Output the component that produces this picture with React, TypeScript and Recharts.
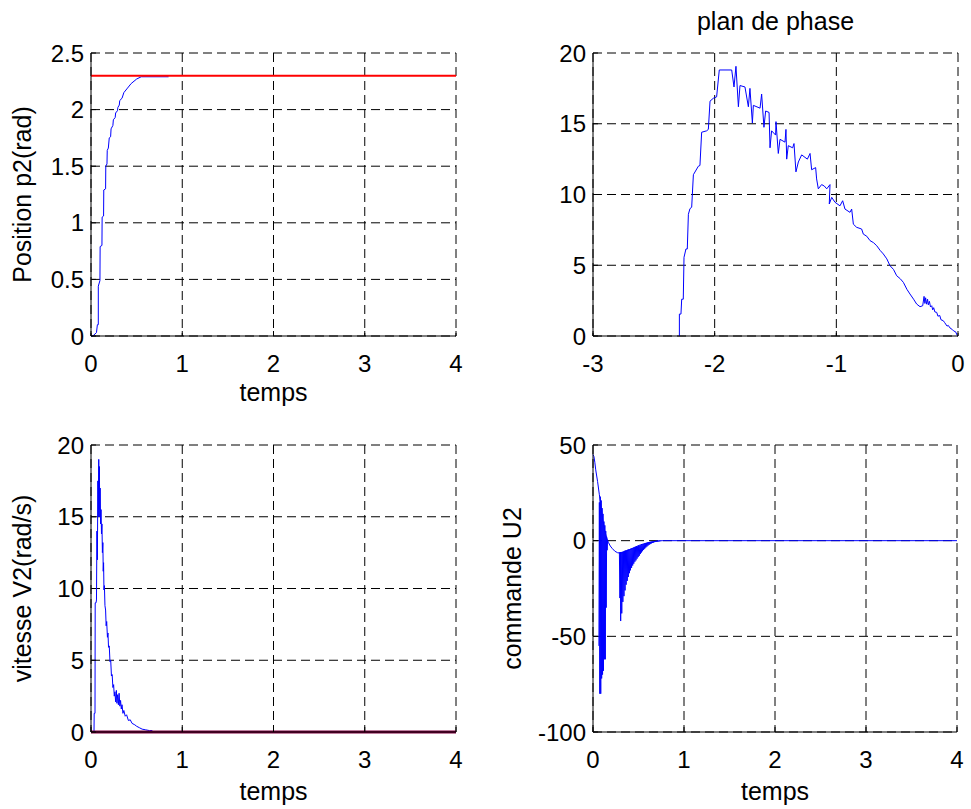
import React from 'react'
import { LineChart, Line, XAxis, YAxis, CartesianGrid } from 'recharts'

const FONT = '"Liberation Sans", Arial, Helvetica, sans-serif'
const TICK_FS = 24
const LABEL_FS = 25

// position p2 (blue) and its set point (red)
const posTime = [0, 0.02, 0.06, 0.07, 0.08, 0.08, 0.098, 0.1, 0.12, 0.122, 0.138, 0.14, 0.16, 0.162, 0.175, 0.178, 0.19, 0.2, 0.215, 0.22, 0.24, 0.245, 0.265, 0.27, 0.29, 0.295, 0.31, 0.315, 0.34, 0.36, 0.4, 0.44, 0.5, 0.55, 0.85]
const posValue = [0, 0, 0.03, 0.1, 0.1, 0.44, 0.49, 0.79, 0.8, 1.05, 1.06, 1.29, 1.3, 1.5, 1.52, 1.64, 1.66, 1.75, 1.76, 1.83, 1.86, 1.91, 1.93, 1.97, 1.99, 2.02, 2.04, 2.08, 2.1, 2.15, 2.19, 2.23, 2.27, 2.29, 2.29]
const posRefTime = [0, 4]
const posRefValue = [2.3, 2.3]

// plan de phase: error vs velocity
const phaseErr = [-2.29, -2.29, -2.277, -2.271, -2.258, -2.252, -2.236, -2.225, -2.216, -2.203, -2.189, -2.175, -2.134, -2.121, -2.107, -2.066, -2.052, -2.038, -2.011, -1.984, -1.962, -1.86, -1.841, -1.825, -1.805, -1.792, -1.751, -1.723, -1.71, -1.69, -1.682, -1.627, -1.614, -1.595, -1.581, -1.553, -1.545, -1.532, -1.499, -1.496, -1.477, -1.463, -1.422, -1.414, -1.408, -1.395, -1.359, -1.348, -1.332, -1.312, -1.285, -1.238, -1.216, -1.203, -1.17, -1.162, -1.148, -1.121, -1.099, -1.079, -1.052, -1.058, -1.038, -1.011, -0.97, -0.948, -0.929, -0.888, -0.874, -0.86, -0.833, -0.792, -0.778, -0.75, -0.723, -0.695, -0.668, -0.64, -0.614, -0.585, -0.559, -0.53, -0.504, -0.475, -0.449, -0.42, -0.395, -0.365, -0.34, -0.312, -0.29, -0.279, -0.272, -0.266, -0.258, -0.25, -0.244, -0.235, -0.226, -0.216, -0.208, -0.2, -0.19, -0.175, -0.165, -0.15, -0.14, -0.121, -0.11, -0.09, -0.08, -0.066, -0.05, -0.035, -0.02, -0.005]
const phaseVel = [0, 1.55, 1.55, 2.6, 2.6, 5.56, 6.15, 6.15, 8.6, 9.0, 9.1, 11.4, 12.0, 12.05, 14.4, 14.5, 14.6, 16.6, 16.8, 16.9, 18.8, 18.8, 17.6, 19.06, 16.2, 17.7, 17.6, 16.2, 17.5, 15.05, 16.3, 16.1, 17.1, 14.75, 15.9, 15.8, 13.3, 14.5, 14.2, 15.15, 12.9, 13.9, 13.7, 14.6, 12.5, 13.45, 13.3, 13.6, 11.6, 12.3, 12.8, 12.5, 12.9, 11.75, 11.9, 11.1, 10.4, 10.7, 10.6, 10.4, 10.7, 9.33, 9.8, 9.45, 9.2, 9.56, 8.97, 8.74, 8.97, 7.9, 7.68, 7.56, 7.2, 7.05, 6.74, 6.6, 6.38, 6.05, 5.8, 5.45, 4.97, 4.7, 4.26, 4.05, 3.79, 3.3, 2.97, 2.6, 2.26, 2.07, 2.14, 2.8, 2.3, 2.7, 2.25, 2.6, 2.2, 2.45, 2.05, 2.14, 1.85, 2.0, 1.7, 1.67, 1.4, 1.45, 1.15, 1.08, 0.95, 0.7, 0.75, 0.57, 0.48, 0.35, 0.3, 0.02]

// vitesse V2
const velTime = [0, 0.033, 0.035, 0.044, 0.046, 0.055, 0.06, 0.065, 0.07, 0.075, 0.08, 0.085, 0.088, 0.092, 0.096, 0.1, 0.105, 0.11, 0.115, 0.12, 0.125, 0.13, 0.134, 0.138, 0.142, 0.147, 0.153, 0.16, 0.166, 0.172, 0.18, 0.186, 0.192, 0.2, 0.208, 0.216, 0.224, 0.232, 0.24, 0.248, 0.255, 0.262, 0.27, 0.278, 0.284, 0.292, 0.3, 0.308, 0.316, 0.324, 0.332, 0.34, 0.35, 0.36, 0.375, 0.39, 0.41, 0.43, 0.45, 0.48, 0.5, 0.53, 0.56, 0.6, 0.64, 0.67, 0.683]
const velValue = [0, 0, 1.3, 1.3, 9.0, 9.0, 9.2, 14, 12, 17.5, 15, 19, 15.5, 18.5, 15, 17, 14.5, 15.5, 13.8, 14.5, 12.5, 13.2, 11.2, 11.8, 9.9, 10.2, 8.8, 8.5, 7.4, 7.7, 6.6, 6.9, 5.9, 6.0, 4.9, 5.0, 3.9, 4.0, 3.1, 3.3, 2.5, 2.8, 2.1, 2.9, 2.0, 2.6, 1.9, 2.7, 1.8, 2.2, 1.6, 1.9, 1.3, 1.5, 1.1, 1.2, 0.8, 0.85, 0.6, 0.5, 0.4, 0.3, 0.2, 0.15, 0.1, 0.1, 0]
const velRefTime = [0, 4]
const velRefValue = [0, 0]

// commande U2
const cmdTime = [0, 0.01, 0.02, 0.03, 0.05, 0.07, 0.09, 0.11, 0.13, 0.15, 0.17, 0.19, 0.21, 0.24, 0.27, 0.3, 0.34, 0.4, 0.46, 0.52, 0.6, 0.68, 0.76, 4]
const cmdValue = [45, 44, 41, 37, 31, 24, 17, 10, 5, 1.5, -1, -2.8, -4, -5.5, -6.3, -6.5, -6, -4.8, -3.4, -2.2, -1.1, -0.4, 0, 0]
const burstTime = [0.065, 0.07, 0.075, 0.08, 0.085, 0.09, 0.095, 0.1, 0.105, 0.11, 0.115, 0.12, 0.125, 0.13, 0.135, 0.14, 0.145, 0.15, 0.155, 0.16]
const burstValue = [-55, 20, -80, 23, -80, 21, -72, 17, -70, 14, -68, 10, -62, 8, -62, 5, -35, 2, -5, 0]
const decayTime = [0.29, 0.296, 0.302, 0.304, 0.31, 0.316, 0.322, 0.328, 0.334, 0.34, 0.346, 0.352, 0.358, 0.364, 0.37, 0.376, 0.382, 0.388, 0.394, 0.4, 0.406, 0.412, 0.418, 0.424, 0.43, 0.436, 0.442, 0.448, 0.454, 0.46, 0.466, 0.472, 0.478, 0.484, 0.49, 0.496, 0.502, 0.508, 0.514, 0.52, 0.526, 0.532, 0.538, 0.544, 0.55, 0.556, 0.562, 0.568, 0.574, 0.58, 0.586, 0.592, 0.598, 0.604, 0.61, 0.616, 0.622, 0.628, 0.634, 0.64, 0.646, 0.652, 0.658, 0.664, 0.67, 0.676, 0.682, 0.688, 0.694, 0.7, 0.706, 0.712, 0.718, 0.724, 0.73, 0.736, 0.742]
const decayValue = [-6, -30, -6, -42, -6, -38, -5.8, -32, -5.6, -29, -5.3, -26, -5.1, -23, -5, -21, -4.7, -19, -4.5, -17, -4.4, -15.5, -4.1, -14.2, -4, -13, -3.8, -12, -3.5, -11, -3.3, -10.3, -3.1, -9.4, -3, -8.6, -2.7, -7.9, -2.6, -7, -2.3, -6.2, -2.1, -5.5, -1.8, -4.8, -1.7, -4.2, -1.4, -3.6, -1.2, -3.1, -1, -2.6, -0.9, -2.2, -0.8, -1.8, -0.6, -1.5, -0.5, -1.2, -0.4, -1, -0.3, -0.8, -0.2, -0.6, -0.1, -0.5, 0, -0.4, 0, -0.3, 0, -0.2, 0]

const zip = (xs: number[], ys: number[]) => xs.map((x, i) => ({ x, y: ys[i] }))

type Series = { data: { x: number; y: number }[]; color: string; width: number }

type PanelProps = {
  left: number
  top: number
  width: number
  height: number
  plotLeft: number
  plotTop: number
  plotRight: number
  plotBottom: number
  xDomain: [number, number]
  xTicks: number[]
  yDomain: [number, number]
  yTicks: number[]
  yLabel?: string
  xLabel?: string
  series: Series[]
}

const tickStyle = { fill: '#000', fontSize: TICK_FS, fontFamily: FONT }
const labelStyle = { fill: '#000', fontSize: LABEL_FS, fontFamily: FONT }

function Panel(p: PanelProps) {
  return (
    <div style={{ position: 'absolute', left: p.left, top: p.top }}>
      <LineChart
        width={p.width}
        height={p.height}
        margin={{ top: p.plotTop, right: p.width - p.plotRight, bottom: 0, left: 0 }}
      >
        <CartesianGrid stroke="#000" strokeDasharray="9 5" />
        <XAxis
          dataKey="x"
          type="number"
          domain={p.xDomain}
          ticks={p.xTicks}
          height={p.height - p.plotBottom}
          tickSize={-5}
          tickMargin={24}
          tick={tickStyle}
          tickLine={{ stroke: '#000' }}
          axisLine={{ stroke: '#000' }}
          label={p.xLabel ? { value: p.xLabel, position: 'insideBottom', offset: 9, style: labelStyle } : undefined}
        />
        <YAxis
          type="number"
          domain={p.yDomain}
          ticks={p.yTicks}
          width={p.plotLeft}
          tickSize={-5}
          tickMargin={12}
          tick={tickStyle}
          tickLine={{ stroke: '#000' }}
          axisLine={{ stroke: '#000' }}
          label={p.yLabel ? { value: p.yLabel, angle: -90, position: 'insideLeft', offset: 22, style: { ...labelStyle, textAnchor: 'middle' } } : undefined}
        />
        <XAxis xAxisId="top" orientation="top" type="number" domain={p.xDomain} ticks={p.xTicks} height={0} tick={false} tickSize={-5} tickLine={{ stroke: '#000' }} axisLine={{ stroke: '#000' }} />
        <YAxis yAxisId="right" orientation="right" type="number" domain={p.yDomain} ticks={p.yTicks} width={0} tick={false} tickSize={-5} tickLine={{ stroke: '#000' }} axisLine={{ stroke: '#000' }} />
        {p.series.map((s, i) => (
          <Line
            key={i}
            data={s.data}
            dataKey="y"
            stroke={s.color}
            strokeWidth={s.width}
            dot={false}
            activeDot={false}
            isAnimationActive={false}
          />
        ))}
      </LineChart>
    </div>
  )
}

export default function App() {
  return (
    <div style={{ position: 'absolute', left: 0, top: 0, width: 971, height: 809, background: '#fff', fontFamily: FONT }}>
      <Panel
        left={0} top={0} width={480} height={410}
        plotLeft={91} plotTop={53} plotRight={456} plotBottom={336}
        xDomain={[0, 4]} xTicks={[0, 1, 2, 3, 4]}
        yDomain={[0, 2.5]} yTicks={[0, 0.5, 1, 1.5, 2, 2.5]}
        xLabel="temps" yLabel="Position p2(rad)"
        series={[
          { data: zip(posTime, posValue), color: '#0000ff', width: 1 },
          { data: zip(posRefTime, posRefValue), color: '#ff0000', width: 2 },
        ]}
      />
      <Panel
        left={490} top={0} width={481} height={410}
        plotLeft={103} plotTop={53} plotRight={468} plotBottom={336}
        xDomain={[-3, 0]} xTicks={[-3, -2, -1, 0]}
        yDomain={[0, 20]} yTicks={[0, 5, 10, 15, 20]}
        series={[{ data: zip(phaseErr, phaseVel), color: '#0000ff', width: 1 }]}
      />
      <div style={{ position: 'absolute', left: 593, top: 7, width: 365, textAlign: 'center', fontSize: LABEL_FS, color: '#000' }}>
        plan de phase
      </div>
      <Panel
        left={0} top={410} width={480} height={399}
        plotLeft={91} plotTop={35} plotRight={456} plotBottom={322}
        xDomain={[0, 4]} xTicks={[0, 1, 2, 3, 4]}
        yDomain={[0, 20]} yTicks={[0, 5, 10, 15, 20]}
        xLabel="temps" yLabel="vitesse V2(rad/s)"
        series={[
          { data: zip(velTime, velValue), color: '#0000ff', width: 1 },
          { data: zip(velRefTime, velRefValue), color: '#800040', width: 3 },
        ]}
      />
      <Panel
        left={490} top={410} width={481} height={399}
        plotLeft={103} plotTop={35} plotRight={467} plotBottom={322}
        xDomain={[0, 4]} xTicks={[0, 1, 2, 3, 4]}
        yDomain={[-100, 50]} yTicks={[-100, -50, 0, 50]}
        xLabel="temps" yLabel="commande U2"
        series={[
          { data: zip(cmdTime, cmdValue), color: '#0000ff', width: 1 },
          { data: zip(burstTime, burstValue), color: '#0000ff', width: 1 },
          { data: zip(decayTime, decayValue), color: '#0000ff', width: 1 },
        ]}
      />
    </div>
  )
}
